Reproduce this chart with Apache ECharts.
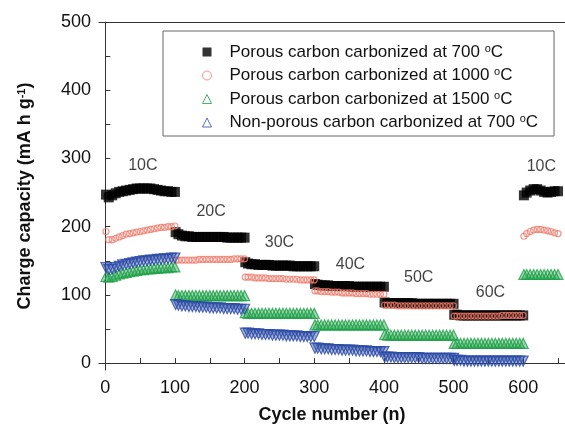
<!DOCTYPE html>
<html>
<head>
<meta charset="utf-8">
<script src="https://cdn.jsdelivr.net/npm/echarts@6/dist/echarts.min.js"></script>
<style>
html, body { margin: 0; padding: 0; background: #fff; }
#chart { width: 565px; height: 432px; }
</style>
</head>
<body>
<div id="chart"></div>
<script>
// cycle numbers sampled every 5 cycles in each rate step
var cycles = [
	1, 5, 10, 15, 20, 25, 30, 35, 40, 45, 50, 55, 60, 65, 70, 75, 80, 85, 90, 95, 100,
	101, 105, 110, 115, 120, 125, 130, 135, 140, 145, 150, 155, 160, 165, 170, 175, 180, 185, 190, 195, 200,
	201, 205, 210, 215, 220, 225, 230, 235, 240, 245, 250, 255, 260, 265, 270, 275, 280, 285, 290, 295, 300,
	301, 305, 310, 315, 320, 325, 330, 335, 340, 345, 350, 355, 360, 365, 370, 375, 380, 385, 390, 395, 400,
	401, 405, 410, 415, 420, 425, 430, 435, 440, 445, 450, 455, 460, 465, 470, 475, 480, 485, 490, 495, 500,
	501, 505, 510, 515, 520, 525, 530, 535, 540, 545, 550, 555, 560, 565, 570, 575, 580, 585, 590, 595, 600,
	601, 605, 610, 615, 620, 625, 630, 635, 640, 645, 650
];

var porous700 = [
	247, 243, 246, 249, 251, 252, 253, 254, 255, 256, 256, 256, 256, 256, 255, 254, 253, 252, 252, 251, 251,
	192, 189, 187, 186, 186, 185, 185, 185, 185, 185, 185, 185, 185, 185, 185, 184, 184, 184, 184, 184, 184,
	148, 146, 145, 145, 144, 144, 144, 144, 143, 143, 143, 143, 143, 143, 142, 142, 142, 142, 142, 142, 142,
	116, 115, 114, 114, 114, 113, 113, 113, 113, 113, 113, 112, 112, 112, 112, 112, 112, 112, 112, 112, 112,
	89, 88, 88, 88, 88, 88, 88, 88, 88, 87, 87, 87, 87, 87, 87, 87, 87, 87, 87, 87, 87,
	71, 71, 70, 70, 70, 70, 70, 70, 70, 70, 70, 70, 70, 70, 70, 70, 70, 70, 70, 70, 70,
	246, 250, 253, 255, 255, 253, 251, 250, 251, 252, 252
];

var porous1000 = [
	193, 181, 181, 183, 185, 187, 189, 190, 191, 192, 193, 194, 195, 196, 197, 198, 199, 199, 200, 200, 201,
	151, 151, 151, 151, 151, 151, 151, 152, 152, 152, 152, 152, 152, 152, 152, 152, 152, 153, 153, 153, 153,
	126, 126, 126, 125, 125, 125, 125, 124, 124, 124, 124, 124, 123, 123, 123, 123, 122, 122, 122, 122, 122,
	106, 106, 105, 105, 105, 104, 104, 104, 103, 103, 103, 103, 102, 102, 102, 102, 101, 101, 101, 101, 101,
	85, 85, 85, 85, 84, 84, 84, 84, 84, 84, 84, 84, 84, 84, 84, 84, 84, 84, 84, 84, 84,
	69, 69, 69, 69, 69, 69, 69, 69, 69, 69, 69, 69, 69, 69, 70, 70, 70, 70, 70, 70, 70,
	186, 190, 193, 195, 196, 196, 195, 194, 193, 191, 190
];

var porous1500 = [
	127, 126, 127, 129, 131, 132, 133, 134, 135, 136, 137, 137, 138, 138, 139, 139, 140, 140, 140, 141, 141,
	100, 99, 99, 99, 99, 99, 99, 99, 99, 99, 99, 99, 99, 99, 99, 99, 99, 99, 99, 99, 99,
	74, 73, 73, 73, 73, 73, 73, 73, 73, 73, 73, 73, 73, 73, 73, 73, 73, 73, 73, 73, 73,
	56, 56, 56, 56, 56, 56, 56, 56, 56, 56, 56, 56, 56, 56, 56, 56, 56, 56, 56, 56, 56,
	42, 41, 41, 41, 41, 41, 41, 41, 41, 41, 41, 41, 41, 41, 41, 41, 41, 41, 41, 41, 41,
	29, 29, 29, 29, 29, 29, 29, 29, 29, 29, 29, 29, 29, 29, 29, 29, 29, 29, 29, 29, 29,
	130, 130, 130, 130, 130, 130, 130, 130, 130, 130, 130
];

var nonPorous700 = [
	140, 137, 138, 140, 142, 144, 145, 146, 147, 148, 149, 150, 150, 151, 151, 152, 152, 153, 153, 154, 154,
	86, 85, 84, 84, 83, 83, 83, 82, 82, 82, 81, 81, 81, 81, 80, 80, 80, 80, 79, 79, 79,
	44, 44, 43, 43, 43, 42, 42, 42, 41, 41, 41, 41, 40, 40, 40, 40, 39, 39, 39, 39, 39,
	22, 22, 21, 21, 21, 20, 20, 20, 19, 19, 19, 19, 18, 18, 18, 18, 17, 17, 17, 17, 17,
	9, 9, 9, 8, 8, 8, 8, 8, 8, 8, 8, 7, 7, 7, 7, 7, 7, 7, 7, 7, 7,
	4, 4, 4, 3, 3, 3, 3, 3, 3, 3, 3, 3, 3, 3, 3, 3, 3, 3, 3, 3, 3
];

var rateLabels = ['10C', '20C', '30C', '40C', '50C', '60C', '10C'];
var rateLabelX = [54, 152, 250, 352, 450, 553, 626];
var rateLabelY = [290, 222, 176, 144, 125, 103, 288];

var xLabelTicks = [0, 100, 200, 300, 400, 500, 600];
var xMinorTicks = [0, 50, 100, 150, 200, 250, 300, 350, 400, 450, 500, 550, 600, 650];
var yLabelTicks = [0, 100, 200, 300, 400, 500];
var yMinorTicks = [0, 50, 100, 150, 200, 250, 300, 350, 400, 450, 500];

var names = [
	'Porous carbon carbonized at 700 °C',
	'Porous carbon carbonized at 1000 °C',
	'Porous carbon carbonized at 1500 °C',
	'Non-porous carbon carbonized at 700 °C'
];
var colors = ['#000000', '#f07a6a', '#1fa148', '#2a4aa6'];

function pairs(vals) {
	var out = [];
	for (var i = 0; i < vals.length; i++) out.push([cycles[i], vals[i]]);
	return out;
}

var labelData = [];
for (var i = 0; i < rateLabels.length; i++) {
	labelData.push({ name: rateLabels[i], value: [rateLabelX[i], rateLabelY[i]] });
}

var font = "'Liberation Sans', Arial, sans-serif";
var axisColor = '#333';

var myChart = echarts.init(document.getElementById('chart'));
myChart.setOption({
	animation: false,
	backgroundColor: '#fff',
	textStyle: { fontFamily: font },
	grid: { left: 99, top: 22, right: -2, bottom: 62 },
	legend: {
		orient: 'vertical',
		left: 163,
		top: 31,
		itemWidth: 9,
		itemHeight: 9,
		itemGap: 6,
		padding: [12, 16, 5, 39],
		borderColor: '#666',
		borderWidth: 1,
		itemStyle: { color: '#ffffff', borderWidth: 1 },
		formatter: function (name) {
			return name.replace(' °C', ' {sup|o}C');
		},
		textStyle: {
			fontSize: 17, color: '#111', fontFamily: font, padding: [0, 0, 0, 13],
			rich: { sup: { fontSize: 11, color: '#111', padding: [0, 0, 7, 0] } }
		},
		data: [
			{ name: names[0], itemStyle: { color: '#000000' } },
			{ name: names[1] },
			{ name: names[2] },
			{ name: names[3] }
		]
	},
	xAxis: [{
		type: 'value',
		min: -9,
		max: 660,
		name: 'Cycle number (n)',
		nameLocation: 'middle',
		nameGap: 36,
		nameTextStyle: { fontSize: 18, fontWeight: 'bold', color: '#111', fontFamily: font },
		axisLine: { lineStyle: { color: axisColor, width: 1 } },
		axisTick: { inside: true, length: 5, customValues: xMinorTicks, lineStyle: { color: axisColor } },
		axisLabel: { customValues: xLabelTicks, fontSize: 18, color: '#111', margin: 9 },
		splitLine: { show: false }
	}, {
		type: 'value',
		position: 'top',
		min: -9,
		max: 660,
		axisLine: { show: true, lineStyle: { color: axisColor, width: 1 } },
		axisTick: { show: false },
		axisLabel: { show: false },
		splitLine: { show: false }
	}],
	yAxis: {
		type: 'value',
		min: -10,
		max: 500,
		name: 'Charge capacity (mA h g{sup|-1})',
		nameLocation: 'middle',
		nameGap: 64,
		nameTextStyle: {
			fontSize: 18, fontWeight: 'bold', color: '#111', fontFamily: font,
			rich: { sup: { fontSize: 11, fontWeight: 'bold', color: '#111', padding: [0, 0, 8, 0] } }
		},
		axisLine: { show: true, lineStyle: { color: axisColor, width: 1 } },
		axisTick: { show: true, inside: true, length: 5, customValues: yMinorTicks, lineStyle: { color: axisColor } },
		axisLabel: { customValues: yLabelTicks, fontSize: 18, color: '#111', margin: 8 },
		splitLine: { show: false }
	},
	series: [{
		name: names[0],
		type: 'scatter',
		symbol: 'rect',
		symbolSize: 10,
		itemStyle: { color: colors[0] },
		data: pairs(porous700)
	}, {
		name: names[1],
		type: 'scatter',
		symbol: 'circle',
		symbolSize: 6,
		itemStyle: { color: 'rgba(255,255,255,0)', borderColor: colors[1], borderWidth: 1.2 },
		data: pairs(porous1000)
	}, {
		name: names[2],
		type: 'scatter',
		symbol: 'triangle',
		symbolSize: 10,
		itemStyle: { color: 'rgba(31,161,72,0.5)', borderColor: colors[2], borderWidth: 1.2 },
		data: pairs(porous1500)
	}, {
		name: names[3],
		type: 'scatter',
		symbol: 'triangle',
		symbolRotate: 180,
		symbolSize: 10,
		itemStyle: { color: 'rgba(42,74,166,0.5)', borderColor: colors[3], borderWidth: 1.2 },
		data: pairs(nonPorous700)
	}, {
		name: 'rates',
		type: 'scatter',
		symbolSize: 0,
		silent: true,
		label: {
			show: true,
			position: 'inside',
			formatter: '{b}',
			fontSize: 16,
			color: '#111',
			fontFamily: font
		},
		data: labelData
	}]
});
</script>
</body>
</html>
